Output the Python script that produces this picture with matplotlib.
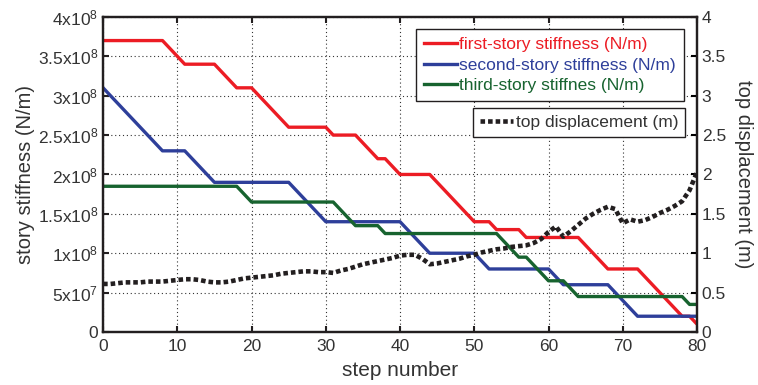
"""
Story stiffness degradation vs. step number, with top displacement on a second axis.
Saves out.png (758x385 px).
"""

import matplotlib
matplotlib.use("Agg")
import matplotlib.pyplot as plt

plt.rcParams["font.family"] = ["Liberation Sans", "DejaVu Sans"]
plt.rcParams["mathtext.fontset"] = "custom"
plt.rcParams["mathtext.rm"] = "Liberation Sans"
plt.rcParams["mathtext.it"] = "Liberation Sans:italic"

# stiffness curves (x10^8 N/m), piecewise linear breakpoints
first_x = [0, 8, 11, 15, 18, 20, 25, 30, 31, 34, 37, 38, 40, 44, 50, 52, 53, 56, 57, 64, 68, 72, 78, 79, 80]
first_y = [3.7, 3.7, 3.4, 3.4, 3.1, 3.1, 2.6, 2.6, 2.5, 2.5, 2.2, 2.2, 2.0, 2.0, 1.4, 1.4, 1.3, 1.3,
           1.2, 1.2, 0.8, 0.8, 0.2, 0.2, 0.1]
second_x = [0, 8, 11, 15, 25, 30, 40, 44, 50, 52, 60, 62, 68, 72, 80]
second_y = [3.1, 2.3, 2.3, 1.9, 1.9, 1.4, 1.4, 1.0, 1.0, 0.8, 0.8, 0.6, 0.6, 0.2, 0.2]
third_x = [0, 18, 20, 31, 34, 37, 38, 53, 56, 57, 60, 62, 64, 78, 79, 80]
third_y = [1.85, 1.85, 1.65, 1.65, 1.35, 1.35, 1.25, 1.25, 0.95, 0.95, 0.65, 0.65, 0.45, 0.45, 0.35, 0.35]

# top displacement (m), one value per step 0..80
disp_steps = list(range(81))
disp = [0.61, 0.61, 0.62, 0.63, 0.63, 0.63, 0.64, 0.64, 0.64, 0.65,
        0.66, 0.67, 0.67, 0.66, 0.64, 0.63, 0.63, 0.64, 0.66, 0.68,
        0.69, 0.70, 0.71, 0.72, 0.74, 0.75, 0.76, 0.77, 0.77, 0.76,
        0.76, 0.75, 0.78, 0.80, 0.83, 0.86, 0.88, 0.90, 0.92, 0.94,
        0.97, 0.98, 0.98, 0.93, 0.86, 0.87, 0.89, 0.91, 0.93, 0.96,
        0.98, 1.01, 1.03, 1.05, 1.06, 1.08, 1.09, 1.10, 1.13, 1.18,
        1.27, 1.34, 1.21, 1.28, 1.36, 1.44, 1.50, 1.55, 1.59, 1.56,
        1.38, 1.43, 1.40, 1.42, 1.46, 1.51, 1.55, 1.60, 1.66, 1.80,
        2.03]

left_ticks = [0, 0.5, 1, 1.5, 2, 2.5, 3, 3.5, 4]
left_labels = ["0", r"5x10$^{7}$", r"1x10$^{8}$", r"1.5x10$^{8}$", r"2x10$^{8}$",
               r"2.5x10$^{8}$", r"3x10$^{8}$", r"3.5x10$^{8}$", r"4x10$^{8}$"]
right_ticks = [0, 0.5, 1, 1.5, 2, 2.5, 3, 3.5, 4]
right_labels = ["0", "0.5", "1", "1.5", "2", "2.5", "3", "3.5", "4"]
x_ticks = [0, 10, 20, 30, 40, 50, 60, 70, 80]

RED = "#EC1C24"
BLUE = "#2E3F9A"
GREEN = "#17632F"
BLACK = "#231F20"
TEXT = "#333333"

fig = plt.figure(figsize=(7.58, 3.85), dpi=100)
ax = fig.add_axes([0.136, 0.1377, 0.7835, 0.8183])
ax2 = ax.twinx()

l1, = ax.plot(first_x, first_y, color=RED, lw=2.4, label="first-story stiffness (N/m)")
l2, = ax.plot(second_x, second_y, color=BLUE, lw=2.4, label="second-story stiffness (N/m)")
l3, = ax.plot(third_x, third_y, color=GREEN, lw=2.4, label="third-story stiffnes (N/m)")
l4, = ax2.plot(disp_steps, disp, color=BLACK, lw=3.3, linestyle=(0, (1.0, 0.65)),
               dash_capstyle="butt", label="top displacement (m)")

ax.set_xlim(0, 80)
ax.set_ylim(0, 4)
ax2.set_ylim(0, 4)
ax.set_xticks(x_ticks)
ax.set_yticks(left_ticks)
ax.set_yticklabels(left_labels)
ax2.set_yticks(right_ticks)
ax2.set_yticklabels(right_labels)

ax.grid(True, color=TEXT, linestyle=(0, (1, 2.5)), lw=0.8)
ax.tick_params(axis="both", direction="in", labelsize=12.5, length=4, width=1.5,
               top=True, colors=BLACK, labelcolor=TEXT)
ax.tick_params(axis="x", pad=5)
ax2.tick_params(axis="y", direction="in", labelsize=12.5, length=4, width=1.5, labelcolor=TEXT)

for a in (ax, ax2):
    for s in a.spines.values():
        s.set_linewidth(1.6)
        s.set_color(BLACK)

ax.set_xlabel("step number", fontsize=15, color=TEXT, labelpad=5)
ax.set_ylabel("story stiffness (N/m)", fontsize=14.5, color=TEXT, labelpad=2)
ax2.set_ylabel("top displacement (m)", fontsize=14.5, color=TEXT, rotation=270, labelpad=19)

leg1 = ax2.legend(handles=[l1, l2, l3], loc="upper right", bbox_to_anchor=(0.978, 0.962),
                  borderaxespad=0, fontsize=12.5, fancybox=False, framealpha=1,
                  edgecolor=BLACK, handlelength=1.9, handletextpad=0.15,
                  borderpad=0.45, labelspacing=0.32)
for txt, c in zip(leg1.get_texts(), [RED, BLUE, GREEN]):
    txt.set_color(c)
leg1.get_frame().set_linewidth(1.0)
ax2.add_artist(leg1)

leg2 = ax2.legend(handles=[l4], loc="upper right", bbox_to_anchor=(0.980, 0.711),
                  borderaxespad=0, fontsize=12.5, fancybox=False, framealpha=1,
                  edgecolor=BLACK, handlelength=1.9, handletextpad=0.15, borderpad=0.4)
leg2.get_texts()[0].set_color(TEXT)
leg2.get_frame().set_linewidth(1.0)

fig.savefig("out.png", dpi=100)
